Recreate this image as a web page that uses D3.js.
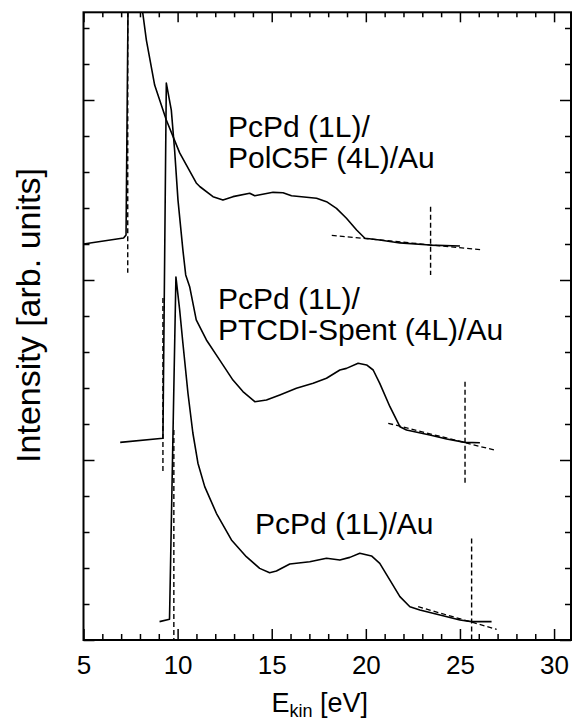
<!DOCTYPE html>
<html><head><meta charset="utf-8">
<script src="https://cdn.jsdelivr.net/npm/d3@7"></script>
<style>
body{margin:0;background:#fff;}
svg{display:block;}
text{font-family:"Liberation Sans",Arial,Helvetica,sans-serif;fill:#000;}
</style>
</head><body>
<svg id="chart" width="575" height="722"></svg>
<script>
// ---------- data ----------
const xMajorTicks = [5, 10, 15, 20, 25, 30];
const xTickLabels = ["5", "10", "15", "20", "25", "30"];
const yMajorTicks = [0, 1, 2, 3];

// PcPd (1L)/PolC5F (4L)/Au
const energyA = [5.0, 7.13, 7.26, 7.37, 7.45, 7.9, 8.14, 8.34, 8.78, 9.40, 10.11, 10.99, 11.19, 11.88, 12.41, 12.94, 13.83, 14.10, 15.07, 15.60, 16.05, 17.38, 17.91, 18.44, 18.97, 19.51, 19.95, 20.74, 21.81, 23.40, 25.0];
const intensityA = [2.200, 2.233, 2.250, 3.560, 4.500, 3.750, 3.490, 3.333, 3.083, 2.889, 2.706, 2.539, 2.518, 2.463, 2.444, 2.463, 2.482, 2.468, 2.487, 2.485, 2.468, 2.454, 2.435, 2.398, 2.343, 2.278, 2.232, 2.222, 2.206, 2.194, 2.189];

// PcPd (1L)/PTCDI-Spent (4L)/Au
const energyB = [6.95, 9.22, 9.40, 9.665, 9.84, 10.02, 10.28, 10.43, 10.64, 10.99, 11.53, 12.23, 12.94, 13.47, 14.10, 14.72, 15.43, 16.31, 17.20, 17.91, 18.62, 18.97, 19.59, 20.04, 20.39, 20.74, 21.28, 21.81, 22.16, 23.40, 24.29, 25.27, 26.06];
const intensityB = [1.098, 1.121, 3.094, 2.944, 2.722, 2.444, 2.167, 2.028, 1.963, 1.778, 1.667, 1.556, 1.444, 1.380, 1.324, 1.333, 1.361, 1.398, 1.426, 1.454, 1.500, 1.509, 1.537, 1.528, 1.500, 1.426, 1.296, 1.185, 1.167, 1.139, 1.117, 1.098, 1.096];

// PcPd (1L)/Au
const energyC = [9.04, 9.57, 9.91, 10.11, 10.28, 10.55, 10.81, 11.08, 11.44, 12.06, 12.86, 13.65, 14.36, 14.89, 15.25, 15.96, 17.02, 17.91, 18.62, 19.15, 19.68, 20.30, 20.74, 21.28, 21.81, 22.34, 22.87, 23.94, 25.0, 25.62, 26.68];
const intensityC = [0.102, 0.115, 2.017, 1.833, 1.650, 1.371, 1.150, 0.982, 0.852, 0.704, 0.556, 0.463, 0.398, 0.374, 0.383, 0.422, 0.435, 0.454, 0.444, 0.459, 0.482, 0.467, 0.426, 0.333, 0.241, 0.185, 0.167, 0.139, 0.111, 0.102, 0.102];

// dashed linear fits of the high-energy cutoff background
const fitEnergyA = [18.19, 26.22], fitIntensityA = [2.248, 2.167];
const fitEnergyB = [21.19, 26.95], fitIntensityB = [1.204, 1.052];
const fitEnergyC = [22.78, 26.95], fitIntensityC = [0.185, 0.059];

// dashed vertical markers (low-energy onset and high-energy cutoff)
const onsetEnergy = [7.35, 9.22, 9.80];
const onsetTop = [3.487, 1.9, 1.167];
const onsetBottom = [2.04, 0.935, 0.0];
const cutoffEnergy = [23.44, 25.27, 25.62];
const cutoffTop = [2.407, 1.435, 0.564];
const cutoffBottom = [2.028, 0.861, 0.0];

const labelLines = [
  ["PcPd (1L)/", "PolC5F (4L)/Au"],
  ["PcPd (1L)/", "PTCDI-Spent (4L)/Au"],
  ["PcPd (1L)/Au"]
];

// ---------- layout ----------
const L = 83.5, R = 571, T = 12.3, B = 640;
const svg = d3.select("#chart");
const x = d3.scaleLinear().domain([5, 30.9]).range([L, R]);
const y = d3.scaleLinear().domain([0, 3.4872]).range([B, T]);

svg.append("defs").append("clipPath").attr("id", "clip")
  .append("rect").attr("x", L).attr("y", T).attr("width", R - L).attr("height", B - T);

// axes (inward ticks)
const xMinor = d3.range(5, 31, 1).filter(v => v % 5 !== 0);
const yMinor = d3.range(0, 3.49, 0.2).filter(v => Math.abs(v - Math.round(v)) > 1e-6);

function styleAxis(g) {
  g.select(".domain").remove();
  g.selectAll(".tick line").attr("stroke", "#000").attr("stroke-width", 1.5);
}
svg.append("g").attr("transform", `translate(0,${B})`)
  .call(d3.axisBottom(x).tickValues(xMajorTicks).tickSize(-11).tickSizeOuter(0)
    .tickFormat((d, i) => xTickLabels[i]))
  .call(styleAxis)
  .call(g => g.selectAll(".tick text").attr("font-size", 26).attr("y", 15).attr("dy", "0.72em")
    .attr("font-family", "Liberation Sans, Arial, sans-serif").attr("fill", "#000"));
svg.append("g").attr("transform", `translate(0,${B})`)
  .call(d3.axisBottom(x).tickValues(xMinor).tickSize(-6).tickFormat(""))
  .call(styleAxis);
svg.append("g").attr("transform", `translate(0,${T})`)
  .call(d3.axisTop(x).tickValues(xMajorTicks).tickSize(-10).tickFormat(""))
  .call(styleAxis);
svg.append("g").attr("transform", `translate(0,${T})`)
  .call(d3.axisTop(x).tickValues(xMinor).tickSize(-5).tickFormat(""))
  .call(styleAxis);
svg.append("g").attr("transform", `translate(${L},0)`)
  .call(d3.axisLeft(y).tickValues(yMajorTicks).tickSize(-11).tickFormat(""))
  .call(styleAxis);
svg.append("g").attr("transform", `translate(${L},0)`)
  .call(d3.axisLeft(y).tickValues(yMinor).tickSize(-6).tickFormat(""))
  .call(styleAxis);
svg.append("g").attr("transform", `translate(${R},0)`)
  .call(d3.axisRight(y).tickValues(yMajorTicks).tickSize(-11).tickFormat(""))
  .call(styleAxis);
svg.append("g").attr("transform", `translate(${R},0)`)
  .call(d3.axisRight(y).tickValues(yMinor).tickSize(-6).tickFormat(""))
  .call(styleAxis);

// frame
svg.append("rect").attr("x", L).attr("y", T).attr("width", R - L).attr("height", B - T)
  .attr("fill", "none").attr("stroke", "#000").attr("stroke-width", 2);

// curves
const plot = svg.append("g").attr("clip-path", "url(#clip)");
const line = d3.line().x(d => x(d[0])).y(d => y(d[1]));
const series = [[energyA, intensityA], [energyB, intensityB], [energyC, intensityC]];
series.forEach(([e, v]) => {
  plot.append("path").datum(e.map((d, i) => [d, v[i]]))
    .attr("d", line).attr("fill", "none").attr("stroke", "#000")
    .attr("stroke-width", 1.6).attr("stroke-linejoin", "round");
});

// dashed fits
const fits = [[fitEnergyA, fitIntensityA], [fitEnergyB, fitIntensityB], [fitEnergyC, fitIntensityC]];
fits.forEach(([e, v]) => {
  plot.append("path").datum(e.map((d, i) => [d, v[i]]))
    .attr("d", line).attr("fill", "none").attr("stroke", "#000")
    .attr("stroke-width", 1.3).attr("stroke-dasharray", "5,3");
});
// dashed vertical markers
function vlines(es, tops, bots) {
  es.forEach((e, i) => {
    plot.append("line").attr("x1", x(e)).attr("x2", x(e))
      .attr("y1", y(tops[i])).attr("y2", y(bots[i]))
      .attr("stroke", "#000").attr("stroke-width", 1.4).attr("stroke-dasharray", "5,3");
  });
}
vlines(onsetEnergy, onsetTop, onsetBottom);
vlines(cutoffEnergy, cutoffTop, cutoffBottom);

// curve labels
const labelPos = [[228, 137], [218, 309], [255, 533.5]];
const labelSize = 30, labelGap = 31;
labelLines.forEach((lines, i) => {
  lines.forEach((s, j) => {
    svg.append("text").attr("x", labelPos[i][0]).attr("y", labelPos[i][1] + j * labelGap)
      .attr("font-size", labelSize).text(s);
  });
});

// axis titles
const xt = svg.append("text").attr("x", 271.5).attr("y", 712).attr("font-size", 27);
xt.append("tspan").text("E");
xt.append("tspan").attr("font-size", 18).attr("dy", 5).text("kin");
xt.append("tspan").attr("dy", -5).text(" [eV]");

svg.append("text").attr("transform", "translate(40,315.5) rotate(-90)")
  .attr("text-anchor", "middle").attr("font-size", 34).text("Intensity [arb. units]");
</script>
</body></html>
